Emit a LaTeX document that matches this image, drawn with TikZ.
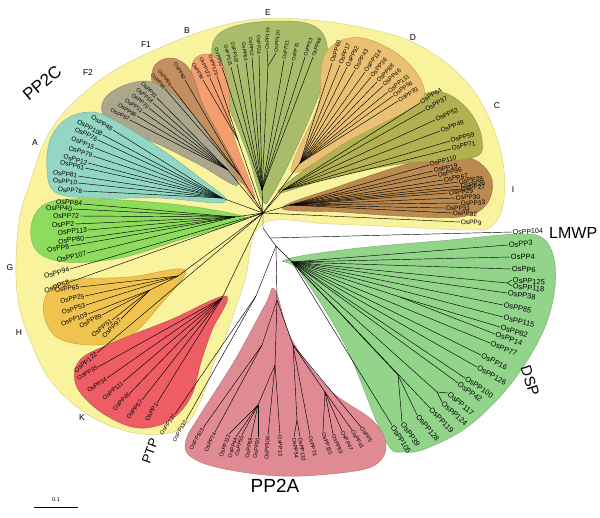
\documentclass[tikz,border=0pt]{standalone}
\usepackage{fontspec}
\setmainfont{Liberation Sans}
\definecolor{cYel}{HTML}{FAF39E}
\definecolor{cYelB}{HTML}{D8CD78}
\definecolor{cE}{HTML}{A8BC6C}
\definecolor{cD}{HTML}{EAC173}
\definecolor{cC}{HTML}{B1B152}
\definecolor{cI}{HTML}{BA8A50}
\definecolor{cA}{HTML}{93D6C3}
\definecolor{cFtwo}{HTML}{ABA78C}
\definecolor{cFone}{HTML}{C48F5E}
\definecolor{cB}{HTML}{F49E70}
\definecolor{cG}{HTML}{8EDC5E}
\definecolor{cH}{HTML}{F0C24E}
\definecolor{cK}{HTML}{EE5C64}
\definecolor{cDSP}{HTML}{93D48B}
\definecolor{cPA}{HTML}{E08B93}
\newcommand\setfoc[2]{\def\fx{#1}\def\fy{#2}}
\def\lfsz{6}
\newcommand\leafx[4]{%
  \pgfmathsetmacro\lang{atan2(\fy-#3,#2-\fx)}%
  \pgfmathtruncatemacro\lside{cos(\lang)>=0}%
  \coordinate (t#4) at (#2,#3);
  \draw[br] (#1) -- (t#4);
  \ifnum\lside=1
    \node[lab,anchor=west,rotate=\lang] (l#4) at (t#4) {#4};
  \else
    \node[lab,anchor=east,rotate=\lang+180] (l#4) at (t#4) {#4};
  \fi}
\begin{document}
\begin{tikzpicture}[x=1pt,y=-1pt,
  br/.style={line width=0.45pt},
  lab/.style={font=\fontsize{\lfsz}{\lfsz}\selectfont, inner sep=0.7pt},
  reg/.style={line width=0.4pt},
  cl/.style={font=\fontsize{8.5}{9}\selectfont},
  big/.style={font=\fontsize{16}{16}\selectfont, inner sep=0pt}]
\useasboundingbox (0,0) rectangle (600,517);
\fill[white] (0,0) rectangle (600,517);
% ---------- regions ----------
\filldraw[reg, fill=cYel, draw=cYelB] plot[smooth cycle, tension=0.6] coordinates {
 (262,224) (330,224) (400,227) (470,230) (492,226) (503,205) (504,170) (496,135)
 (478,97) (450,66) (410,41) (360,27) (300,19) (250,20) (200,32) (155,50) (115,70)
 (85,92) (60,117) (43,145) (30,183) (20,215) (16,260) (18,300) (28,335) (50,380)
 (87,414) (130,432) (170,433) (190,420) (203,395) (213,365) (228,330) (245,280)};
\filldraw[reg, fill=cE, draw=cE!80!black] plot[smooth cycle, tension=0.6] coordinates {
 (262,200) (248,155) (230,110) (214,70) (214,40) (235,26) (275,21) (312,25) (327,45) (322,85) (300,140) (272,195)};
\filldraw[reg, fill=cB, draw=cB!80!black] plot[smooth cycle, tension=0.6] coordinates {
 (255,198) (232,130) (229,90) (222,64) (208,54) (194,60) (192,80) (205,115) (235,170)};
\filldraw[reg, fill=cFone, draw=cFone!80!black] plot[smooth cycle, tension=0.6] coordinates {
 (245,185) (222,140) (203,105) (190,70) (172,58) (155,65) (153,85) (172,110) (210,150)};
\filldraw[reg, fill=cFtwo, draw=cFtwo!80!black] plot[smooth cycle, tension=0.6] coordinates {
 (238,185) (200,165) (160,145) (120,128) (103,115) (105,98) (125,85) (152,82) (180,100) (212,140)};
\filldraw[reg, fill=cA, draw=cA!80!black] plot[smooth cycle, tension=0.6] coordinates {
 (225,202) (160,198) (90,198) (55,192) (47,170) (50,140) (65,120) (88,112) (110,118) (155,145) (200,178)};
\filldraw[reg, fill=cG, draw=cG!80!black] plot[smooth cycle, tension=0.6] coordinates {
 (242,216) (180,205) (100,199) (50,202) (32,222) (36,250) (65,262) (120,258) (180,240) (235,223)};
\filldraw[reg, fill=cH, draw=cH!80!black] plot[smooth cycle, tension=0.6] coordinates {
 (185,270) (130,277) (70,280) (48,292) (44,315) (58,338) (95,345) (130,336) (160,305)};
\filldraw[reg, fill=cK, draw=cK!80!black] plot[smooth cycle, tension=0.6] coordinates {
 (226,296) (170,320) (112,343) (80,360) (76,385) (98,410) (132,427) (160,425) (180,412) (193,392) (201,362) (212,330)};
\filldraw[reg, fill=cI, draw=cI!80!black] plot[smooth cycle, tension=0.6] coordinates {
 (282,208) (340,186) (400,166) (440,156) (475,160) (492,180) (486,205) (460,217) (400,216) (340,212)};
\filldraw[reg, fill=cC, draw=cC!80!black] plot[smooth cycle, tension=0.6] coordinates {
 (278,192) (330,152) (380,120) (418,96) (445,93) (470,112) (482,140) (472,158) (400,164) (330,178)};
\filldraw[reg, fill=cD, draw=cD!80!black] plot[smooth cycle, tension=0.6] coordinates {
 (292,172) (318,105) (322,62) (336,43) (362,38) (395,52) (418,75) (424,96) (408,110) (350,140)};
\filldraw[reg, fill=cDSP, draw=cDSP!80!black] plot[smooth cycle, tension=0.6] coordinates {
 (285,260) (350,249) (450,240) (520,234) (545,240) (555,265) (553,300) (540,338) (510,385) (470,425) (430,447) (405,452) (385,440) (345,345) (300,272)};
\filldraw[reg, fill=cPA, draw=cPA!80!black] plot[smooth cycle, tension=0.6] coordinates {
 (275,290) (292,340) (330,390) (372,420) (386,445) (375,465) (340,473) (280,476) (220,468) (190,456) (186,440) (200,415) (235,360) (265,305)};
% ---------- backbone ----------
\coordinate (O) at (263,213);
\coordinate (N1) at (263,228);
\coordinate (N2) at (270,238);
\coordinate (N3) at (276,246);
\coordinate (D0) at (292,262);
\coordinate (P0) at (277,300);
\coordinate (Pt) at (256,296);
\draw[br] (O) -- (N1) -- (N2) -- (N3);
\draw[br] (N3) -- (D0);
\draw[br] (N3) -- (P0);
\draw[br] (N3) -- (Pt);
% clade nodes PP2C
\foreach \n/\x/\y in {nE/262/190, nB/238/140, nFone/240/175, nFtwo/228/170, nA/222/198,
  nG/235/217, nH/178/276, nK/222/298, nI/290/205, nC/283/190, nD/300/163}
  {\coordinate (\n) at (\x,\y); \draw[br] (O) -- (\n);}
% ---------- E ----------
\def\lfsz{5}\setfoc{262}{190}
\leafx{nE}{222}{67}{OsPP50}
\leafx{nE}{231}{67}{OsPP121}
\leafx{nE}{237}{64}{OsPP102}
\leafx{nE}{246}{62}{OsPP63}
\leafx{nE}{252}{57}{OsPP22}
\leafx{nE}{259}{55}{OsPP24}
\coordinate (e1) at (268,66); \draw[br] (nE) -- (e1);
\leafx{e1}{267}{50}{OsPP116}
\leafx{e1}{276}{53}{OsPP120}
\leafx{nE}{284}{60}{OsPP21}
\leafx{nE}{293}{62}{OsPP75}
\leafx{nE}{305}{57}{OsPP23}
\leafx{nE}{313}{57}{OsPP98}
% ---------- D ----------
\def\lfsz{6}\setfoc{300}{163}
\leafx{nD}{332}{63}{OsPP60}
\leafx{nD}{340}{65}{OsPP17}
\leafx{nD}{347}{67}{OsPP92}
\leafx{nD}{355}{70}{OsPP43}
\leafx{nD}{365}{72}{OsPP114}
\leafx{nD}{371}{77}{OsPP36}
\leafx{nD}{377}{82}{OsPP88}
\leafx{nD}{383}{86}{OsPP46}
\leafx{nD}{388}{92}{OsPP131}
\leafx{nD}{393}{96}{OsPP56}
\leafx{nD}{398}{101}{OsPP93}
% ---------- C ----------
\def\lfsz{6.5}\setfoc{283}{190}
\leafx{nC}{420}{103}{OsPP64}
\leafx{nC}{425}{110}{OsPP37}
\leafx{nC}{435}{120}{OsPP52}
\leafx{nC}{440}{131}{OsPP49}
\leafx{nC}{450}{141}{OsPP59}
\leafx{nC}{451}{149}{OsPP71}
% ---------- I ----------
\def\lfsz{6.5}\setfoc{290}{205}
\leafx{nI}{429}{165}{OsPP110}
\leafx{nI}{433}{171}{OsPP19}
\leafx{nI}{437}{175}{OsPP96}
\leafx{nI}{443}{180}{OsPP67}
\leafx{nI}{458}{182}{OsPP28}
\leafx{nI}{460}{186}{OsPP26}
\leafx{nI}{460}{189}{OsPP27}
\leafx{nI}{448}{193}{OsPP29}
\leafx{nI}{455}{198}{OsPP30}
\leafx{nI}{460}{203}{OsPP33}
\leafx{nI}{445}{208}{OsPP31}
\leafx{nI}{452}{213}{OsPP32}
\setfoc{263}{213}
\leafx{O}{460}{222}{OsPP9}
% ---------- B, F1, F2 ----------
\def\lfsz{5}\setfoc{238}{140}
\leafx{nB}{203}{80}{OsPP90}
\leafx{nB}{210}{78}{OsPP123}
\leafx{nB}{217}{76}{OsPP129}
\setfoc{240}{175}
\leafx{nFone}{165}{89}{OsPP95}
\leafx{nFone}{171}{86}{OsPP99}
\leafx{nFone}{185}{80}{OsPP62}
\def\lfsz{5.5}\setfoc{228}{170}
\leafx{nFtwo}{157}{98}{OsPP91}
\leafx{nFtwo}{153}{103}{OsPP18}
\leafx{nFtwo}{149}{108}{OsPP70}
\leafx{nFtwo}{143}{112}{OsPP11}
\leafx{nFtwo}{137}{116}{OsPP86}
\leafx{nFtwo}{130}{120}{OsPP87}
% ---------- A ----------
\def\lfsz{6.5}\setfoc{222}{198}
\leafx{nA}{113}{130}{OsPP48}
\leafx{nA}{103}{135}{OsPP108}
\leafx{nA}{98}{140}{OsPP76}
\leafx{nA}{95}{148}{OsPP15}
\leafx{nA}{93}{156}{OsPP79}
\leafx{nA}{88}{163}{OsPP12}
\leafx{nA}{85}{168}{OsPP61}
\leafx{nA}{78}{176}{OsPP81}
\leafx{nA}{78}{183}{OsPP10}
\leafx{nA}{83}{191}{OsPP78}
% ---------- G ----------
\def\lfsz{7}\setfoc{235}{217}
\leafx{nG}{83}{204}{OsPP84}
\leafx{nG}{73}{209}{OsPP40}
\leafx{nG}{80}{216}{OsPP72}
\leafx{nG}{75}{224}{OsPP2}
\leafx{nG}{88}{230}{OsPP113}
\leafx{nG}{85}{238}{OsPP80}
\leafx{nG}{70}{246}{OsPP8}
\leafx{nG}{87}{253}{OsPP107}
\setfoc{263}{213}
\leafx{O}{70}{269}{OsPP94}
\leafx{O}{70}{282}{OsPP58}
% ---------- H ----------
\def\lfsz{6.5}\setfoc{178}{276}
\leafx{nH}{80}{287}{OsPP65}
\leafx{nH}{85}{296}{OsPP25}
\leafx{nH}{86}{305}{OsPP53}
\coordinate (h1) at (150,290); \draw[br] (nH) -- (h1);
\setfoc{150}{290}
\leafx{h1}{88}{314}{OsPP109}
\leafx{h1}{102}{315}{OsPP89}
\leafx{h1}{112}{320}{OsPP51}
\leafx{h1}{121}{319}{OsPP97}
\def\lfsz{6.5}\setfoc{263}{213}
\leafx{O}{97}{353}{OsPP122}
% ---------- K ----------
\def\lfsz{6}\setfoc{222}{298}
\leafx{nK}{98}{367}{OsPP35}
\leafx{nK}{107}{378}{OsPP34}
\leafx{nK}{123}{382}{OsPP111}
\leafx{nK}{130}{393}{OsPP45}
\leafx{nK}{142}{400}{OsPP57}
\leafx{nK}{157}{403}{OsPP1}
% ---------- PTP ----------
\def\lfsz{5.5}\setfoc{256}{296}
\leafx{Pt}{175}{414}{OsPP127}
\leafx{Pt}{186}{420}{OsPP130}
% ---------- LMWP ----------
\def\lfsz{7}\setfoc{270}{238}
\leafx{N2}{512}{232}{OsPP104}
% ---------- DSP ----------
\def\lfsz{7.5}\setfoc{292}{262}
\coordinate (d1) at (507,283);
\coordinate (d2) at (437,392);
\coordinate (d3) at (400,297);
\coordinate (d4) at (398,375);
\draw[br] (D0) -- (d1); \draw[br] (D0) -- (d2); \draw[br] (D0) -- (d3); \draw[br] (D0) -- (d4);
\leafx{D0}{508}{245}{OsPP3}
\leafx{D0}{510}{257}{OsPP4}
\leafx{D0}{511}{269}{OsPP6}
\leafx{d1}{512}{280}{OsPP125}
\leafx{d1}{512}{286}{OsPP118}
\leafx{D0}{507}{293}{OsPP38}
\leafx{D0}{503}{305}{OsPP85}
\leafx{D0}{503}{317}{OsPP115}
\leafx{d3}{500}{327}{OsPP82}
\leafx{d3}{495}{334}{OsPP14}
\leafx{D0}{490}{343}{OsPP77}
\leafx{D0}{481}{355}{OsPP16}
\leafx{D0}{477}{367}{OsPP126}
\leafx{D0}{465}{378}{OsPP100}
\leafx{D0}{458}{383}{OsPP42}
\leafx{d2}{448}{393}{OsPP117}
\leafx{d2}{442}{402}{OsPP124}
\leafx{D0}{430}{408}{OsPP119}
\leafx{d4}{417}{415}{OsPP128}
\leafx{d4}{402}{422}{OsPP39}
\leafx{D0}{392}{425}{OsPP105}
% ---------- PP2A ----------
\def\lfsz{5.5}\setfoc{277}{300}
\coordinate (Pa) at (262,345);
\coordinate (Pb) at (275,365);
\coordinate (Pc) at (258,405);
\coordinate (Pd) at (293,345);
\coordinate (Pf) at (297,420);
\coordinate (Pe) at (325,392);
\draw[br] (P0) -- (Pa); \draw[br] (P0) -- (Pb); \draw[br] (Pb) -- (Pc);
\draw[br] (P0) -- (Pd); \draw[br] (Pd) -- (Pf); \draw[br] (Pd) -- (Pe);
\leafx{Pa}{203}{428}{OsPP103}
\leafx{Pa}{215}{432}{OsPP74}
\leafx{Pc}{229}{434}{OsPP112}
\leafx{Pc}{236}{437}{OsPP44}
\leafx{Pc}{242}{435}{OsPP55}
\leafx{Pc}{251}{437}{OsPP69}
\leafx{Pc}{258}{437}{OsPP20}
\leafx{Pb}{268}{435}{OsPP106}
\leafx{Pb}{280}{435}{OsPP13}
\leafx{Pf}{294}{437}{OsPP54}
\leafx{Pf}{300}{437}{OsPP132}
\leafx{Pd}{310}{435}{OsPP73}
\leafx{Pe}{323}{432}{OsPP101}
\leafx{Pe}{333}{434}{OsPP83}
\leafx{Pe}{342}{431}{OsPP47}
\leafx{Pe}{352}{430}{OsPP41}
\leafx{Pd}{361}{427}{OsPP5}
% ---------- clade letters ----------
\node[cl] (cE) at (268,13) {E};
\node[cl] (cB) at (187,31) {B};
\node[cl] (cF1) at (146,45) {F1};
\node[cl] (cF2) at (88,73) {F2};
\node[cl] (cD) at (413,38) {D};
\node[cl] (cC) at (497,106) {C};
\node[cl] (cI) at (513,190) {I};
\node[cl] (cA) at (35,143) {A};
\node[cl] (cG) at (10,268) {G};
\node[cl] (cH) at (19,333) {H};
\node[cl] (cK) at (82,418) {K};
% ---------- family labels ----------
\node[big, font=\fontsize{17}{17}\selectfont, rotate=40] (tPP2C) at (42,83) {PP2C};
\node[big, anchor=west] (tLMWP) at (549,233) {LMWP};
\node[big, font=\fontsize{15}{15}\selectfont, rotate=-72] (tDSP) at (530,381) {DSP};
\node[big, font=\fontsize{19}{19}\selectfont] (tPP2A) at (275,486) {PP2A};
\node[big, font=\fontsize{13}{13}\selectfont, rotate=70] (tPTP) at (150,451) {PTP};
% ---------- scale bar ----------
\coordinate (sb1) at (34,507);
\coordinate (sb2) at (78,507);
\draw[line width=0.6pt] (sb1) -- (sb2);
\node[font=\fontsize{5.5}{6}\selectfont] (sbl) at (56,500) {0.1};
\end{tikzpicture}
\end{document}
